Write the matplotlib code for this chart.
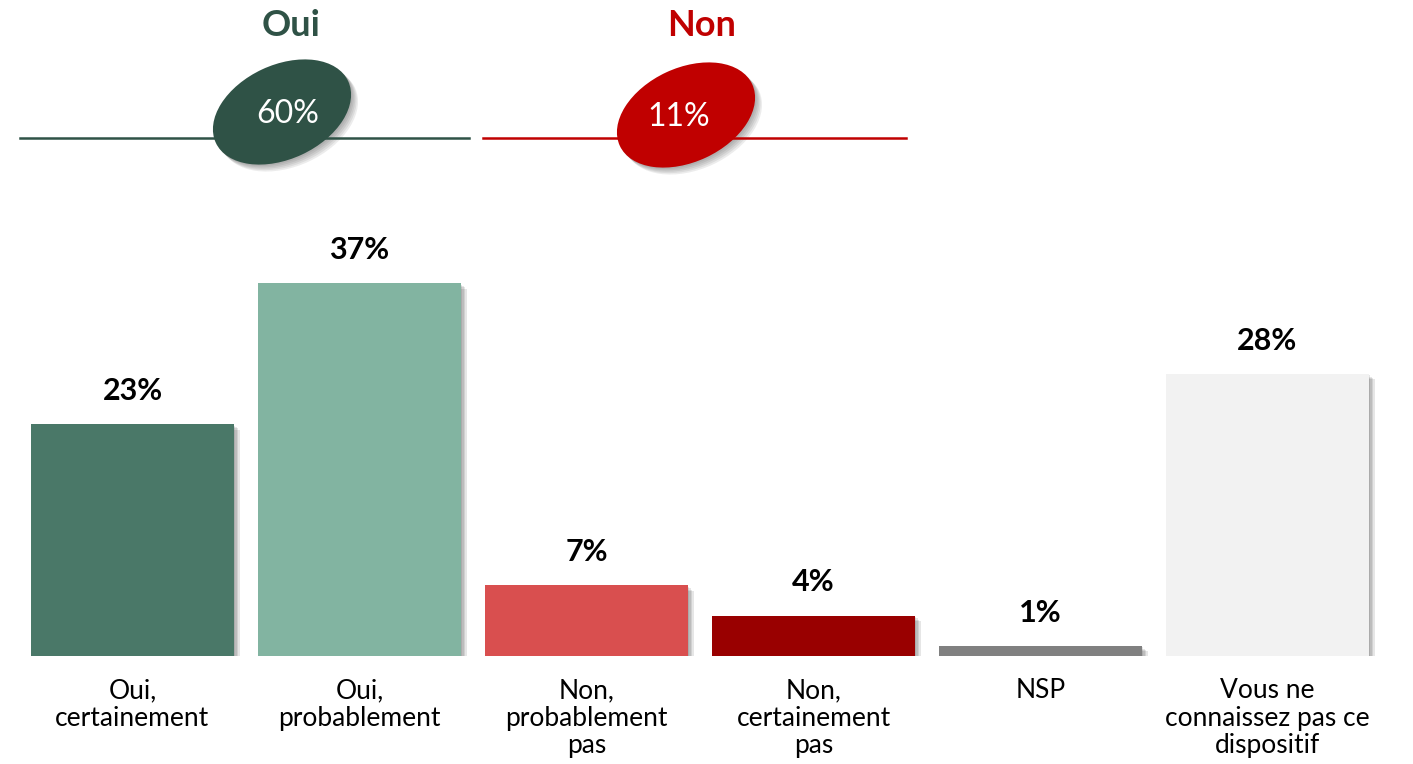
import numpy as np
import matplotlib.pyplot as plt
from matplotlib.patches import Ellipse
import matplotlib.patheffects as pe

plt.rcParams['font.family'] = ['Lato', 'DejaVu Sans']

# --------------------------
# Data
# --------------------------
categories = [
    "Oui,\ncertainement",
    "Oui,\nprobablement",
    "Non,\nprobablement\npas",
    "Non,\ncertainement\npas",
    "NSP",
    "Vous ne\nconnaissez pas ce\ndispositif",
]
values = [23, 37, 7, 4, 1, 28]
bar_colors = ["#4a7868", "#82b4a1", "#d94f4f", "#990000", "#808080", "#f2f2f2"]

group_names = ["Oui", "Non"]
group_totals = [60, 11]
group_colors = ["#2f5246", "#c00000"]


def soft_shadow(n=4, alpha=0.12):
    # stack of offset shadows to fake a blurred drop shadow
    fx = [pe.SimplePatchShadow(offset=(k, -k), shadow_rgbFace="#333333", alpha=alpha)
          for k in range(n, 0, -1)]
    return fx + [pe.Normal()]


# --------------------------
# Figure
# --------------------------
W, H = 1413, 764
fig = plt.figure(figsize=(W / 100, H / 100), dpi=100)

# bar axes placed in pixel units
left, right, bottom, top = 19, 1381, H - 656, H - 253
ax = fig.add_axes([left / W, bottom / H, (right - left) / W, (top - bottom) / H])
x = np.arange(len(values))
bars = ax.bar(x, values, width=0.894, color=bar_colors, path_effects=soft_shadow())
ax.set_xlim(-0.5, len(values) - 0.5)
ax.set_ylim(0, 40)

for b, v in zip(bars, values):
    ax.annotate(f"{v}%", (b.get_x() + b.get_width() / 2, v), xytext=(0, 24),
                textcoords="offset points", ha="center", va="center",
                fontsize=22, fontweight="bold", color="black")

ax.set_xticks(x)
ax.set_xticklabels(categories, fontsize=19, linespacing=1.12)
ax.tick_params(axis="x", length=0, pad=16)
ax.set_yticks([])
for s in ax.spines.values():
    s.set_visible(False)

# --------------------------
# Top summary (Oui / Non)
# --------------------------
ov = fig.add_axes([0, 0, 1, 1], zorder=-1)
ov.set_xlim(0, W)
ov.set_ylim(0, H)
ov.axis("off")

line_x = [(20, 469), (483, 906)]
title_x = [291, 702]
ell_c = [(282, 112), (686, 115)]
txt_x = [288, 679]
for name, tot, col, (x0, x1), tx, (ex, ey), px in zip(group_names, group_totals, group_colors,
                                                      line_x, title_x, ell_c, txt_x):
    ov.plot([x0, x1], [H - 138, H - 138], color=col, lw=1.8)
    ov.text(tx, H - 25, name, ha="center", va="center", fontsize=26,
            fontweight="bold", color=col)
    e = Ellipse((ex, H - ey), 146, 94, angle=25, facecolor=col, edgecolor="none",
                path_effects=soft_shadow(5, 0.09))
    ov.add_patch(e)
    ov.text(px, H - ey - 2, f"{tot}%", ha="center", va="center", fontsize=23, color="white")

fig.savefig("out.png", dpi=100)
